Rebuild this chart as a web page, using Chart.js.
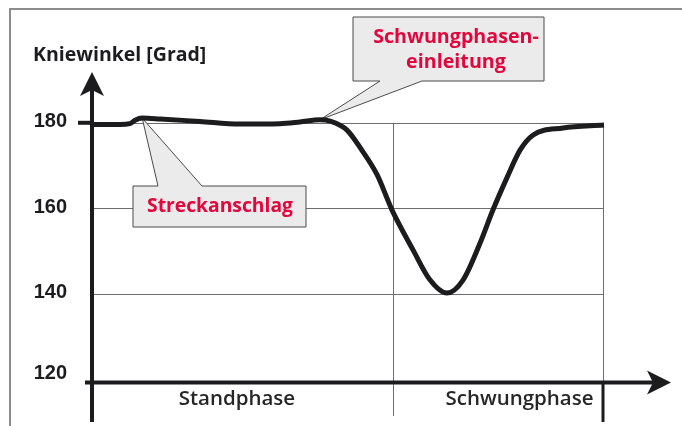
<!DOCTYPE html>
<html>
<head>
<meta charset="utf-8">
<script src="https://cdn.jsdelivr.net/npm/chart.js@4"></script>
<style>
  html, body { margin: 0; padding: 0; background: #fff; }
  #kneeChart { display: block; }
</style>
</head>
<body>
<canvas id="kneeChart" width="682" height="426"></canvas>
<script>
// gait cycle in percent / knee angle in degrees
var gaitPct = [0, 5.5, 7.4, 8.4, 9.8, 13.3, 21.1, 28.9, 36.7, 40.6, 44.5, 46.5, 49.8, 52.7, 55.7, 58.6,
    62.7, 66.0, 69.3, 72.5, 75.8, 78.3, 81.1, 83.6, 86.1, 92.0, 100];
var kneeAngle = [179.6, 179.6, 179.8, 180.6, 181.1, 180.9, 180.3, 179.7, 179.8, 180.2, 180.7, 180.4, 178.3, 173.6, 167.8, 159.6,
    150.3, 143.3, 140.2, 143.3, 151.9, 159.6, 167.3, 173.6, 177.1, 178.8, 179.5];

var yTicks = [120, 140, 160, 180];
var phaseNames = ["Standphase", "Schwungphase"];
var swingStart = 58.7;
var yTitle = "Kniewinkel [Grad]";

// callouts: text lines + the point on the curve they point to
var calloutStreck = ["Streckanschlag"];
var streckPoint = [9.8, 181.1];
var calloutSwing = ["Schwungphasen-", "einleitung"];
var swingPoint = [44.5, 180.7];

var INK = "#1c1c1e";
var RED = "#e3063d";

function arrowHead(ctx, tx, ty, dir) {
    // notched arrow, dir = 'up' or 'right'
    ctx.beginPath();
    if (dir == "up") {
        ctx.moveTo(tx, ty);
        ctx.lineTo(tx + 12, ty + 24);
        ctx.lineTo(tx, ty + 18);
        ctx.lineTo(tx - 12, ty + 24);
    } else {
        ctx.moveTo(tx, ty);
        ctx.lineTo(tx - 24, ty - 12);
        ctx.lineTo(tx - 18, ty);
        ctx.lineTo(tx - 24, ty + 12);
    }
    ctx.closePath();
    ctx.fill();
}

function drawCallout(ctx, box, base1, base2, apex, onTop) {
    ctx.beginPath();
    if (onTop) {
        ctx.moveTo(box.l, box.t);
        ctx.lineTo(base1, box.t);
        ctx.lineTo(apex[0], apex[1]);
        ctx.lineTo(base2, box.t);
        ctx.lineTo(box.r, box.t);
        ctx.lineTo(box.r, box.b);
        ctx.lineTo(box.l, box.b);
    } else {
        ctx.moveTo(box.l, box.t);
        ctx.lineTo(box.r, box.t);
        ctx.lineTo(box.r, box.b);
        ctx.lineTo(base2, box.b);
        ctx.lineTo(apex[0], apex[1]);
        ctx.lineTo(base1, box.b);
        ctx.lineTo(box.l, box.b);
    }
    ctx.closePath();
    ctx.fillStyle = "#ebebec";
    ctx.fill();
    ctx.lineWidth = 1;
    ctx.strokeStyle = "#4a4a4a";
    ctx.stroke();
}

var backPlugin = {
    id: "backPlugin",
    beforeDatasetsDraw: function(chart) {
        var ctx = chart.ctx;
        var xs = chart.scales.x, ys = chart.scales.y;
        var left = xs.getPixelForValue(0), right = xs.getPixelForValue(100);
        ctx.save();

        // frame
        ctx.strokeStyle = "#8c8c8c";
        ctx.lineWidth = 2;
        ctx.beginPath();
        ctx.moveTo(10, 426);
        ctx.lineTo(10, 9);
        ctx.lineTo(682, 9);
        ctx.stroke();

        // grid
        ctx.strokeStyle = "#6e6e6e";
        ctx.lineWidth = 1;
        yTicks.forEach(function(v) {
            if (v == 120) return;
            var y = Math.round(ys.getPixelForValue(v)) + 0.5;
            ctx.beginPath();
            ctx.moveTo(left, y);
            ctx.lineTo(right, y);
            ctx.stroke();
        });
        var top = ys.getPixelForValue(180);
        var xm = Math.round(xs.getPixelForValue(swingStart)) + 0.5;
        ctx.beginPath();
        ctx.moveTo(xm, top);
        ctx.lineTo(xm, 416);
        ctx.moveTo(Math.round(right) - 0.5, top);
        ctx.lineTo(Math.round(right) - 0.5, 382);
        ctx.stroke();

        // callouts
        drawCallout(ctx, { l: 133, t: 186, r: 306, b: 227 }, 158, 202,
            [xs.getPixelForValue(streckPoint[0]), ys.getPixelForValue(streckPoint[1])], true);
        drawCallout(ctx, { l: 353, t: 17, r: 544, b: 81 }, 380, 422,
            [xs.getPixelForValue(swingPoint[0]), ys.getPixelForValue(swingPoint[1])], false);

        ctx.fillStyle = RED;
        ctx.textAlign = "center";
        ctx.textBaseline = "middle";
        ctx.font = "bold 19.3px 'Open Sans'";
        ctx.fillText(calloutStreck[0], 220, 207);
        ctx.font = "bold 19.7px 'Open Sans'";
        ctx.fillText(calloutSwing[0], 456, 37);
        ctx.fillText(calloutSwing[1], 456, 62);
        ctx.restore();
    },
    afterDatasetsDraw: function(chart) {
        var ctx = chart.ctx;
        var xs = chart.scales.x, ys = chart.scales.y;
        var x0 = xs.getPixelForValue(0), right = xs.getPixelForValue(100);
        var axisY = ys.getPixelForValue(120) + 3;
        ctx.save();
        ctx.fillStyle = INK;
        ctx.strokeStyle = INK;

        // y axis
        ctx.lineWidth = 4;
        ctx.beginPath();
        ctx.moveTo(x0, 422);
        ctx.lineTo(x0, 90);
        ctx.stroke();
        arrowHead(ctx, x0, 72, "up");
        // tick at 180
        var y180 = ys.getPixelForValue(180);
        ctx.beginPath();
        ctx.moveTo(78, y180);
        ctx.lineTo(x0, y180);
        ctx.stroke();

        // x axis
        ctx.beginPath();
        ctx.moveTo(85, axisY);
        ctx.lineTo(655, axisY);
        ctx.stroke();
        arrowHead(ctx, 671, axisY, "right");
        ctx.lineWidth = 3;
        ctx.beginPath();
        ctx.moveTo(right - 1, axisY);
        ctx.lineTo(right - 1, 422);
        ctx.stroke();

        // tick labels
        ctx.font = "bold 20px 'Liberation Sans'";
        ctx.textAlign = "right";
        ctx.textBaseline = "middle";
        yTicks.forEach(function(v) {
            var y = ys.getPixelForValue(v) - (v == 120 ? 6 : 1);
            ctx.fillText(String(v), 67, y);
        });

        // axis title
        ctx.font = "bold 19.5px 'Open Sans'";
        ctx.textAlign = "left";
        ctx.fillText(yTitle, 33, 55);

        // phase names
        ctx.font = "600 20.5px 'Open Sans'";
        ctx.fillStyle = "#262626";
        ctx.textAlign = "center";
        ctx.fillText(phaseNames[0], xs.getPixelForValue(28.3), 399);
        ctx.fillText(phaseNames[1], xs.getPixelForValue(83.5), 399);
        ctx.restore();
    }
};

var points = gaitPct.map(function(p, i) {
    return { x: p, y: kneeAngle[i] };
});

var kneeChart = new Chart(document.getElementById("kneeChart"), {
    type: "line",
    data: {
        datasets: [{
            data: points,
            borderColor: INK,
            borderWidth: 5,
            pointRadius: 0,
            cubicInterpolationMode: "monotone",
            fill: false,
            clip: false
        }]
    },
    options: {
        responsive: false,
        animation: false,
        events: [],
        layout: {
            padding: { left: 92, right: 78, top: 80, bottom: 46.5 }
        },
        plugins: {
            legend: { display: false },
            tooltip: { enabled: false }
        },
        scales: {
            x: { type: "linear", min: 0, max: 100, display: false },
            y: { min: 120, max: 190, display: false }
        }
    },
    plugins: [backPlugin]
});
</script>
</body>
</html>
